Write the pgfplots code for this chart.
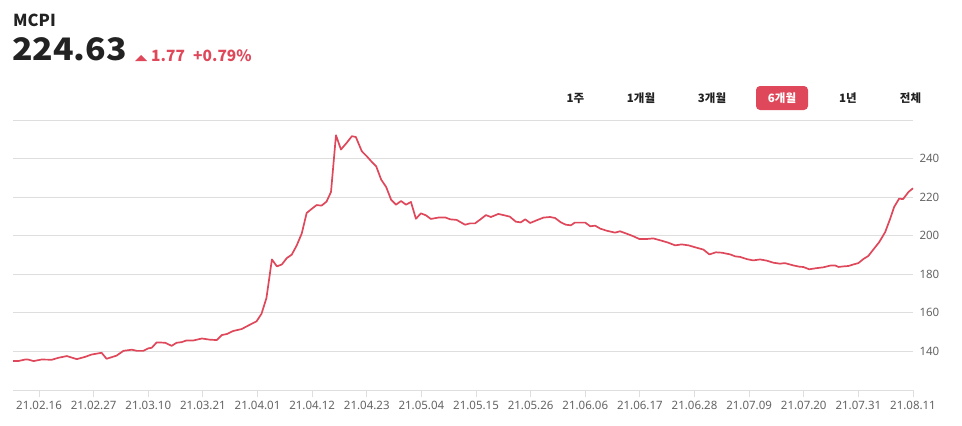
\documentclass[border=0pt]{standalone}
\usepackage{pgfplots}
\pgfplotsset{compat=1.18}
\usepackage{fontspec}
\setmainfont{Noto Sans}
\newfontfamily\kr{Noto Sans CJK KR}
\definecolor{upred}{RGB}{222,72,90}
\definecolor{gridgray}{RGB}{222,222,222}
\definecolor{ticktext}{RGB}{100,100,100}
\definecolor{dark}{RGB}{34,34,34}
\begin{document}
\begin{tikzpicture}
  \path (0,0) rectangle (962bp,-426bp);
  % header
  \node[anchor=base west, inner sep=0, text=dark] at (13bp,-26bp) {\kr\bfseries\fontsize{16.5bp}{18bp}\selectfont MCPI};
  \node[anchor=base west, inner sep=0, text=dark] at (12bp,-60bp) {\scalebox{1.09}[1]{\kr\bfseries\fontsize{31bp}{33bp}\selectfont 224.63}};
  \fill[upred] (135bp,-61bp) -- (147bp,-61bp) -- (141bp,-55bp) -- cycle;
  \node[anchor=base west, inner sep=0, text=upred] at (151bp,-61bp) {\kr\bfseries\fontsize{15.5bp}{17bp}\selectfont 1.77};
  \node[anchor=base west, inner sep=0, text=upred] at (193bp,-61bp) {\kr\bfseries\fontsize{15.5bp}{17bp}\selectfont +0.79\%};
  % period buttons
  \fill[upred, rounded corners=4bp] (756bp,-86bp) rectangle (808bp,-110bp);
  \begin{scope}[every node/.style={inner sep=0, font=\kr\bfseries\fontsize{11.5bp}{13bp}\selectfont}]
    \node[text=dark] at (575.5bp,-98bp) {1주};
    \node[text=dark] at (641bp,-98bp) {1개월};
    \node[text=dark] at (712bp,-98bp) {3개월};
    \node[text=white] at (782bp,-98bp) {6개월};
    \node[text=dark] at (848bp,-98bp) {1년};
    \node[text=dark] at (910.5bp,-98bp) {전체};
  \end{scope}
  \begin{axis}[
    at={(13bp,-390bp)}, anchor=south west,
    scale only axis,
    width=900bp, height=270bp,
    xmin=-5.24, xmax=176,
    ymin=120, ymax=260,
    axis x line*=bottom,
    axis y line*=right,
    x axis line style={draw=gridgray, line width=0.8bp},
    y axis line style={draw=none},
    xtick={0,11,...,176},
    xticklabels={21.02.16,21.02.27,21.03.10,21.03.21,21.04.01,21.04.12,21.04.23,21.05.04,21.05.15,21.05.26,21.06.06,21.06.17,21.06.28,21.07.09,21.07.20,21.07.31,21.08.11},
    ytick={140,160,...,260},
    yticklabels={140,160,180,200,220,240,},
    ymajorgrids,
    grid style={draw=gridgray, line width=0.8bp},
    xtick style={draw=gridgray, line width=0.8bp},
    major tick length=7bp,
    xtick align=outside,
    ytick style={draw=none},
    tick label style={text=ticktext, font=\fontsize{11.5bp}{13bp}\selectfont},
    yticklabel style={anchor=west, xshift=3bp},
    xticklabel style={yshift=-1bp},
    /pgf/number format/assume math mode=true,
    clip=false,
  ]
    \addplot[upred, line width=1.7bp, line join=round] coordinates {
      (-5.2,135.0)(-4.2,135.0)(-2.8,135.8)(-2.2,135.8)(-1.1,135.0)(0.5,135.8)(2.6,135.7)(3.9,136.7)
      (5.6,137.6)(7.6,136.0)(9.3,137.2)(10.6,138.4)(12.6,139.3)(13.6,136.2)(15.6,137.8)(17.0,140.3)
      (18.7,140.9)(19.7,140.3)(21.0,140.3)(22.0,141.6)(22.7,141.9)(23.7,144.7)(25.4,144.5)(26.7,142.9)
      (27.7,144.5)(28.7,144.8)(29.7,145.7)(31.1,145.7)(32.8,146.7)(34.4,146.1)(35.8,145.9)(36.8,148.5)
      (37.8,149.0)(39.1,150.6)(40.8,151.6)(42.2,153.5)(43.8,155.6)(44.8,159.5)(45.8,167.7)(46.9,187.7)
      (47.9,184.1)(48.9,185.1)(49.9,188.4)(50.9,190.2)(51.9,195.0)(52.9,201.1)(53.9,211.8)(54.9,213.9)
      (55.9,215.9)(56.9,215.6)(57.9,217.7)(58.8,222.7)(59.8,252.1)(60.8,244.7)(62.0,248.3)(63.0,251.6)
      (63.8,251.2)(65.0,243.8)(66.0,241.2)(67.0,238.3)(67.9,236.0)(68.9,229.1)(69.9,225.3)(70.9,218.7)
      (71.9,216.1)(72.9,218.0)(73.9,216.1)(74.9,217.5)(75.9,208.8)(76.9,211.6)(77.9,210.6)(78.9,208.7)
      (80.4,209.4)(81.8,209.5)(82.8,208.5)(84.1,208.2)(85.8,205.7)(86.8,206.4)(87.8,206.4)(88.8,208.3)
      (90.0,210.7)(91.0,209.7)(92.5,211.3)(93.5,210.7)(94.8,209.9)(96.0,207.3)(97.0,206.9)(97.9,208.5)
      (98.9,206.6)(100.4,208.2)(101.6,209.4)(102.9,209.7)(103.9,209.2)(105.1,206.9)(106.1,205.7)(107.1,205.4)
      (107.9,206.8)(110.0,206.8)(111.0,204.9)(112.0,205.2)(113.0,203.7)(114.3,202.6)(116.0,201.6)(117.0,202.3)
      (118.3,201.1)(119.7,199.7)(120.9,198.3)(122.4,198.3)(123.7,198.6)(125.4,197.4)(126.7,196.4)(128.1,195.0)
      (129.4,195.5)(130.8,195.0)(132.4,193.8)(133.8,192.8)(135.0,190.3)(136.3,191.4)(137.5,191.2)(139.2,190.3)
      (140.2,189.3)(141.2,189.0)(142.5,187.9)(143.8,187.2)(145.2,187.7)(146.5,187.1)(147.9,186.0)(149.2,185.5)
      (150.2,185.8)(151.9,184.6)(153.2,183.9)(153.9,183.8)(155.1,182.6)(156.6,183.2)(157.9,183.6)(159.3,184.5)
      (160.3,184.6)(161.0,183.8)(162.0,184.1)(163.0,184.3)(164.0,185.1)(165.0,185.8)(166.0,187.9)(167.0,189.5)
      (168.0,192.8)(169.2,196.7)(170.4,201.9)(171.4,208.8)(172.2,214.9)(173.2,219.2)(174.0,219.0)(175.1,222.7)
      (176,224.6)
    };
  \end{axis}
  \pgfresetboundingbox
  \path (0,0) rectangle (962bp,-426bp);
\end{tikzpicture}
\end{document}
